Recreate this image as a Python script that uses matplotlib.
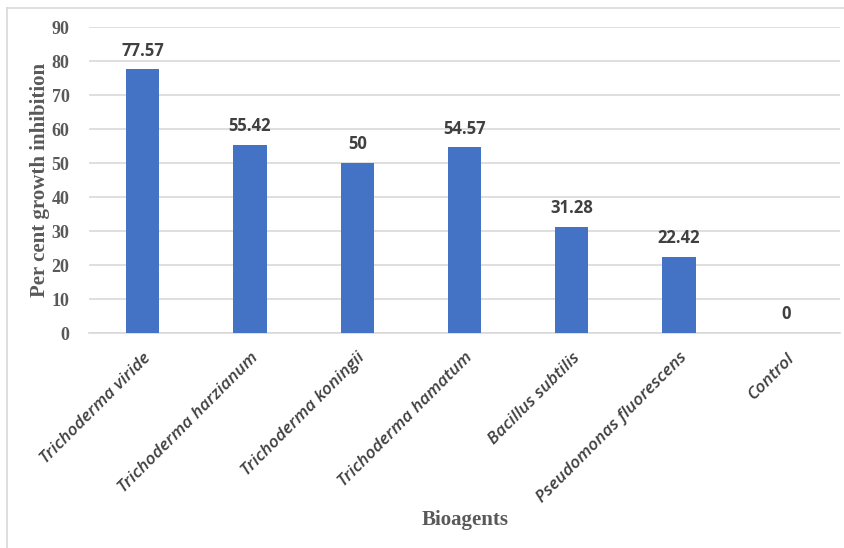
import matplotlib.pyplot as plt
from matplotlib.lines import Line2D

categories = [
    "Trichoderma viride",
    "Trichoderma harzianum",
    "Trichoderma koningii",
    "Trichoderma hamatum",
    "Bacillus subtilis",
    "Pseudomonas fluorescens",
    "Control",
]
inhibition = [77.57, 55.42, 50, 54.57, 31.28, 22.42, 0]
value_labels = ["77.57", "55.42", "50", "54.57", "31.28", "22.42", "0"]
y_ticks = [0, 10, 20, 30, 40, 50, 60, 70, 80, 90]

W, H = 845, 548
fig = plt.figure(figsize=(W / 100, H / 100), dpi=100)
ax = fig.add_axes([89 / W, 1 - 333 / H, (840 - 89) / W, (333 - 27) / H])

x = list(range(len(categories)))
ax.bar(x, inhibition, width=0.31, color="#4472C4", zorder=3)

ax.set_xlim(-0.5, len(categories) - 0.5)
ax.set_ylim(0, 90)
ax.set_yticks(y_ticks)
ax.set_yticklabels([str(t) for t in y_ticks], fontfamily="Liberation Serif",
                   fontweight="bold", fontsize=13, color="#595959")
ax.set_xticks(x)
ax.set_xticklabels(categories, rotation=45, ha="right", va="top",
                   rotation_mode="anchor", fontfamily="Open Sans",
                   fontstyle="italic", fontweight="semibold", fontsize=12.5,
                   color="#404040")
ax.tick_params(axis="both", length=0)
ax.tick_params(axis="y", pad=14)
ax.tick_params(axis="x", pad=12)

ax.grid(axis="y", color="#D9D9D9", linewidth=1.2, zorder=0)
for side in ("top", "right", "left"):
    ax.spines[side].set_visible(False)
ax.spines["bottom"].set_color("#D9D9D9")
ax.spines["bottom"].set_linewidth(1.2)

for xi, v, lab in zip(x, inhibition, value_labels):
    ax.annotate(lab, (xi, v), xytext=(0, 7), textcoords="offset points",
                ha="center", va="bottom", fontfamily="Open Sans",
                fontweight="bold", fontsize=12, color="#404040")

fig.text(40 / W, 1 - 180 / H, "Per cent growth inhibition", rotation=90,
         ha="center", va="center", fontfamily="Liberation Serif",
         fontweight="bold", fontsize=15, color="#595959")
fig.text(465 / W, 1 - 520 / H, "Bioagents", ha="center", va="center",
         fontfamily="Liberation Serif", fontweight="bold", fontsize=15,
         color="#595959")

# chart frame (top and left edges)
fig.add_artist(Line2D([7 / W, 1], [1 - 8 / H, 1 - 8 / H], color="#D9D9D9",
                      linewidth=1.2, transform=fig.transFigure))
fig.add_artist(Line2D([7 / W, 7 / W], [0, 1 - 8 / H], color="#D9D9D9",
                      linewidth=1.2, transform=fig.transFigure))

fig.savefig("out.png", dpi=100)
